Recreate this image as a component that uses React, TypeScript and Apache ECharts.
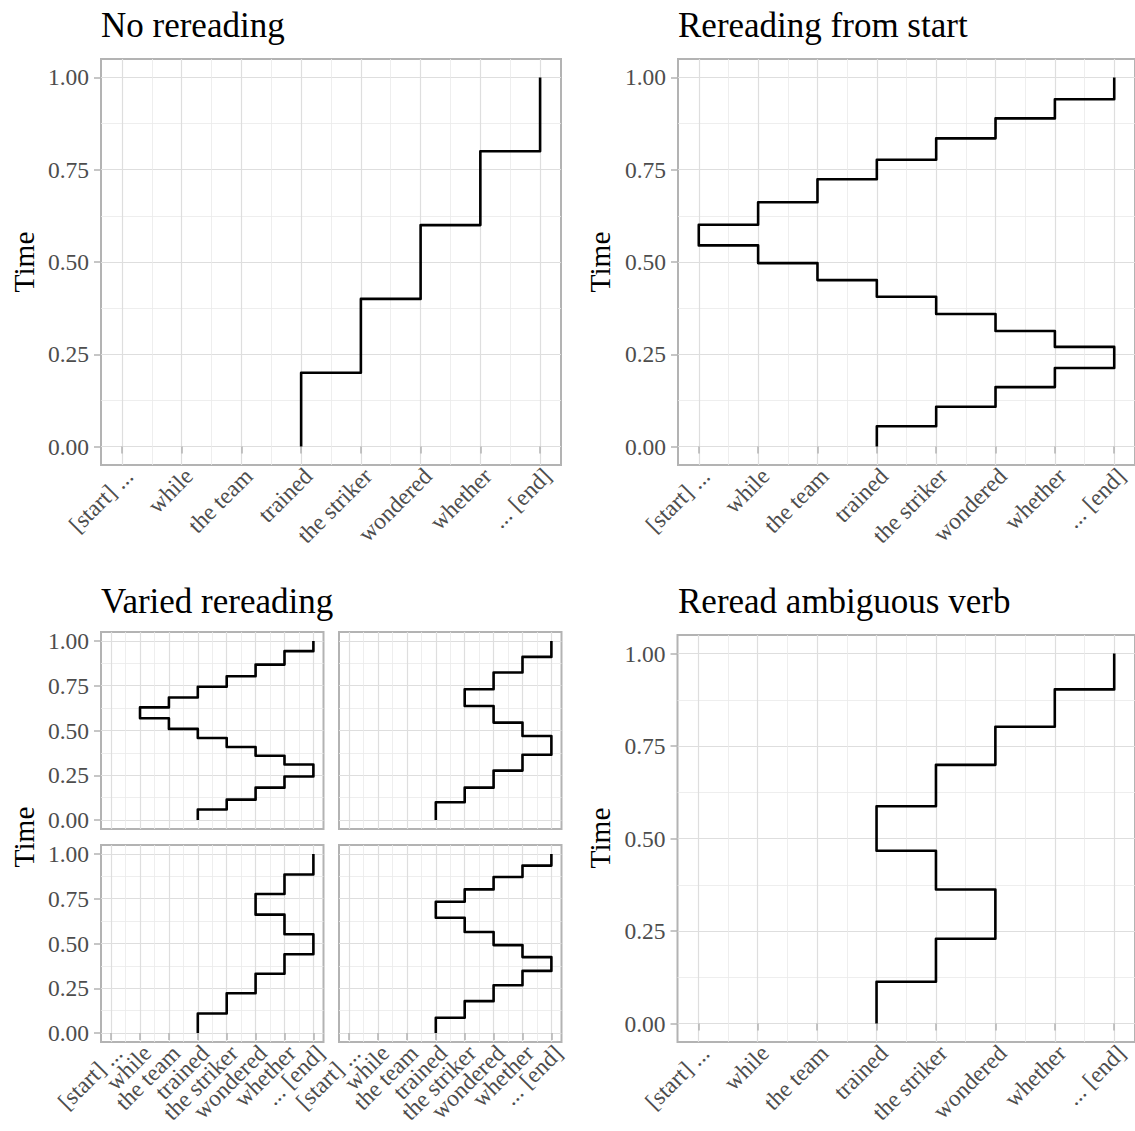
import React, { useEffect, useRef } from "react";
import * as echarts from "echarts";

// ---- categories / ticks ----
const words = ["[start] ...", "while", "the team", "trained", "the striker", "wondered", "whether", "... [end]"];
const xTicks = [1, 2, 3, 4, 5, 6, 7, 8];
const xMinor = [1.5, 2.5, 3.5, 4.5, 5.5, 6.5, 7.5];
const yTicks = [0, 0.25, 0.5, 0.75, 1];
const yMinor = [0.125, 0.375, 0.625, 0.875];

// ---- reading paths: word index visited (1-based) and time boundaries ----
const noRereadWords = [4, 5, 6, 7, 8];
const noRereadTimes = [0, 0.2, 0.4, 0.6, 0.8, 1.0];

const fromStartWords = [4, 5, 6, 7, 8, 7, 6, 5, 4, 3, 2, 1, 2, 3, 4, 5, 6, 7, 8];
const fromStartTimes = [0, 0.055, 0.108, 0.161, 0.213, 0.27, 0.313, 0.359, 0.406, 0.451, 0.497, 0.545, 0.601, 0.662, 0.724, 0.777, 0.835, 0.889, 0.941, 1.0];

const variedAWords = [4, 5, 6, 7, 8, 7, 6, 5, 4, 3, 2, 3, 4, 5, 6, 7, 8];
const variedATimes = [0, 0.059, 0.114, 0.181, 0.243, 0.31, 0.359, 0.408, 0.458, 0.509, 0.568, 0.629, 0.684, 0.744, 0.803, 0.868, 0.943, 1.0];

const variedBWords = [4, 5, 6, 7, 8, 7, 6, 5, 6, 7, 8];
const variedBTimes = [0, 0.099, 0.181, 0.276, 0.365, 0.469, 0.544, 0.637, 0.73, 0.824, 0.911, 1.0];

const variedCWords = [4, 5, 6, 7, 8, 7, 6, 7, 8];
const variedCTimes = [0, 0.109, 0.222, 0.331, 0.44, 0.552, 0.661, 0.776, 0.885, 1.0];

const variedDWords = [4, 5, 6, 7, 8, 7, 6, 5, 4, 5, 6, 7, 8];
const variedDTimes = [0, 0.085, 0.178, 0.267, 0.347, 0.424, 0.491, 0.564, 0.644, 0.733, 0.802, 0.871, 0.935, 1.0];

const ambigWords = [4, 5, 6, 5, 4, 5, 6, 7, 8];
const ambigTimes = [0, 0.113, 0.229, 0.362, 0.467, 0.587, 0.699, 0.802, 0.903, 1.0];

const FONT = "'Liberation Serif', 'Times New Roman', serif";
const GRID_MAJOR = "#DEDEDE";
const GRID_MINOR = "#EAEAEA";
const BORDER = "#B3B3B3";
const TICK_TEXT = "#4D4D4D";

// labels split over two axes so that none is dropped by overlap checks
const oddTicks = xTicks.filter((v) => v % 2 === 1);
const evenTicks = xTicks.filter((v) => v % 2 === 0);

function stepPath(ws: number[], ts: number[]) {
  const pts: number[][] = [];
  for (let i = 0; i < ws.length; i++) {
    pts.push([ws[i], ts[i]]);
    pts.push([ws[i], ts[i + 1]]);
  }
  return pts;
}

type Panel = {
  left: number; top: number; width: number; height: number;
  showX: boolean; showY: boolean; words: number[]; times: number[];
};

const panels: Panel[] = [
  { left: 101, top: 59, width: 460, height: 406, showX: true, showY: true, words: noRereadWords, times: noRereadTimes },
  { left: 678, top: 59, width: 460, height: 406, showX: true, showY: true, words: fromStartWords, times: fromStartTimes },
  { left: 101, top: 632, width: 222.5, height: 197, showX: false, showY: true, words: variedAWords, times: variedATimes },
  { left: 339, top: 632, width: 222.5, height: 197, showX: false, showY: false, words: variedBWords, times: variedBTimes },
  { left: 101, top: 845, width: 222.5, height: 197, showX: true, showY: true, words: variedCWords, times: variedCTimes },
  { left: 339, top: 845, width: 222.5, height: 197, showX: true, showY: false, words: variedDWords, times: variedDTimes },
  { left: 677.5, top: 635, width: 460, height: 407, showX: true, showY: true, words: ambigWords, times: ambigTimes },
];

function titleText(text: string, x: number, baseline: number, size: number) {
  return {
    type: "text",
    x,
    y: baseline - 0.3375 * size,
    style: { text, font: `${size}px ${FONT}`, fill: "#000", align: "left", verticalAlign: "middle" },
  };
}

function timeLabel(xBaseline: number, yCenter: number) {
  const size = 29.3;
  return {
    type: "text",
    x: xBaseline - 0.3375 * size,
    y: yCenter,
    rotation: Math.PI / 2,
    style: { text: "Time", font: `${size}px ${FONT}`, fill: "#000", align: "center", verticalAlign: "middle" },
  };
}

function xLabel(show: boolean, values: number[]) {
  return {
    show, customValues: values, showMinLabel: true, showMaxLabel: true, hideOverlap: false,
    formatter: (v: number) => words[Math.round(v) - 1],
    rotate: 45, align: "right", verticalAlign: "top", margin: 0, padding: [-2, 0, 0, 0],
    fontSize: 23.5, color: TICK_TEXT, fontFamily: FONT,
  };
}

export default function App() {
  const ref = useRef<HTMLDivElement>(null);
  useEffect(() => {
    document.body.style.margin = "0";
    const chart = echarts.init(ref.current!, null, { renderer: "svg" });
    const grid: any[] = [];
    const xAxis: any[] = [];
    const yAxis: any[] = [];
    const series: any[] = [];
    panels.forEach((p, g) => {
      grid.push({
        left: p.left, top: p.top, width: p.width, height: p.height,
        show: true, borderColor: BORDER, borderWidth: 2, backgroundColor: "transparent",
        containLabel: false,
      });
      xAxis.push({
        type: "value", gridIndex: g, min: 0.65, max: 8.35, position: "bottom",
        axisLine: { show: false },
        axisTick: { show: p.showX, customValues: xTicks, length: 7, lineStyle: { color: BORDER, width: 1.5 } },
        axisLabel: xLabel(p.showX, oddTicks),
        splitLine: { show: true, lineStyle: { color: GRID_MAJOR, width: 1.2 } },
      });
      xAxis.push({
        type: "value", gridIndex: g, min: 0.65, max: 8.35, position: "bottom",
        axisLine: { show: false },
        axisTick: { show: false, customValues: xMinor },
        axisLabel: xLabel(p.showX, evenTicks),
        splitLine: { show: true, lineStyle: { color: GRID_MINOR, width: 0.8 } },
      });
      yAxis.push({
        type: "value", gridIndex: g, min: -0.05, max: 1.05, position: "left",
        axisLine: { show: false },
        axisTick: { show: p.showY, customValues: yTicks, length: 7, lineStyle: { color: BORDER, width: 1.5 } },
        axisLabel: {
          show: p.showY, customValues: yTicks, showMinLabel: true, showMaxLabel: true,
          formatter: (v: number) => v.toFixed(2), margin: 12,
          fontSize: 23.5, color: TICK_TEXT, fontFamily: FONT,
        },
        splitLine: { show: true, lineStyle: { color: GRID_MAJOR, width: 1.2 } },
      });
      yAxis.push({
        type: "value", gridIndex: g, min: -0.05, max: 1.05, position: "left",
        axisLine: { show: false },
        axisTick: { show: false, customValues: yMinor },
        axisLabel: { show: false },
        splitLine: { show: true, lineStyle: { color: GRID_MINOR, width: 0.8 } },
      });
      series.push({
        type: "line", xAxisIndex: 2 * g, yAxisIndex: 2 * g,
        data: stepPath(p.words, p.times),
        showSymbol: false, symbol: "none", silent: true, z: 5,
        lineStyle: { color: "#000", width: 2.6, join: "round", cap: "butt" },
      });
    });

    chart.setOption({
      animation: false,
      backgroundColor: "#fff",
      textStyle: { fontFamily: FONT },
      grid, xAxis, yAxis, series,
      graphic: [
        titleText("No rereading", 101, 37, 35),
        titleText("Rereading from start", 678, 37, 35),
        titleText("Varied rereading", 101, 613, 35),
        titleText("Reread ambiguous verb", 678, 613, 35),
        timeLabel(34, 262),
        timeLabel(610, 262),
        timeLabel(34, 837),
        timeLabel(610, 838),
      ],
    });
    return () => chart.dispose();
  }, []);
  return <div ref={ref} style={{ width: 1135, height: 1131 }} />;
}
